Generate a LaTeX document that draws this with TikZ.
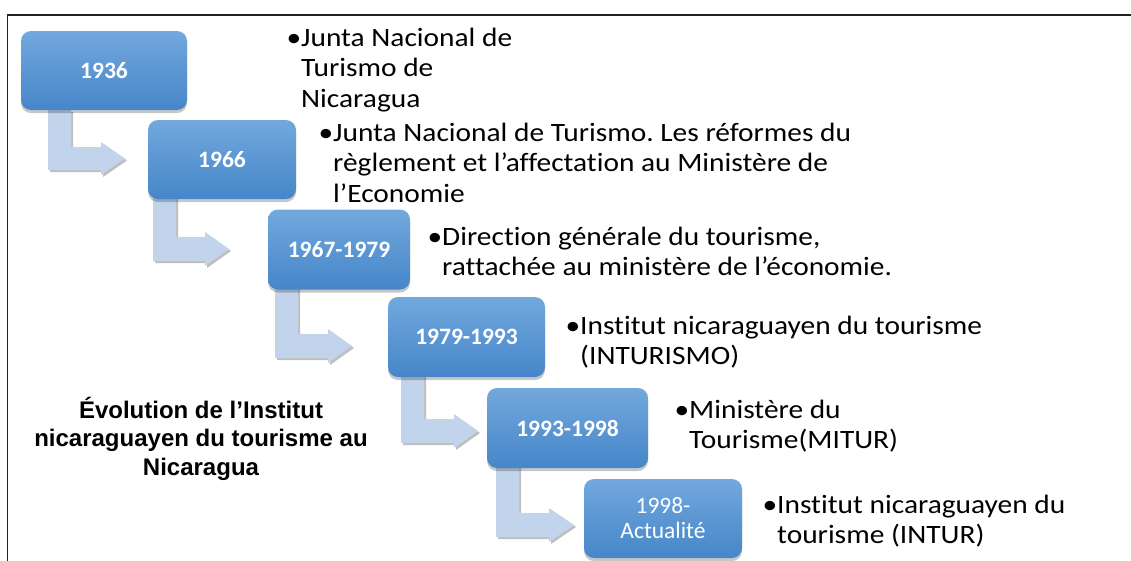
\documentclass[tikz,border=0pt]{standalone}
\usepackage{fontspec}
\usepackage{graphicx}
\setmainfont{Carlito}[Ligatures=NoCommon]
\newfontfamily\titlefont{Liberation Sans}
\usetikzlibrary{shadows}
\definecolor{boxtop}{HTML}{72A8DD}
\definecolor{boxbot}{HTML}{4686C9}
\definecolor{arrowfill}{HTML}{C2D4EB}
\definecolor{framecol}{HTML}{222222}
\tikzset{
  yearbox/.style={rounded corners=10pt, top color=boxtop, bottom color=boxbot,
    draw=none, text=white, font=\fontsize{23.5}{25}\selectfont\bfseries, align=center,
    inner sep=0pt,
    drop shadow={shadow xshift=0pt, shadow yshift=-3pt, opacity=0.22, fill=black}},
  bentarrow/.style={fill=arrowfill, draw=none,
    drop shadow={shadow xshift=2pt, shadow yshift=-2pt, opacity=0.25, fill=black}},
  desc/.style={anchor=base west, inner sep=0pt},
}
\newcommand{\desctext}[1]{\scalebox{1.11}[1]{\parbox[t]{600pt}{\frenchspacing\raggedright\fontsize{26.5}{30.5}\selectfont\leavevmode\llap{•}#1}}}
% sx, top, bartop, barbot, headbase, tip
\newcommand{\bentarr}[6]{%
  \fill[bentarrow] (#1,#2) -- (#1+23,#2) -- (#1+23,#3) -- (#5,#3) -- (#5,#3-5)
    -- (#6,{(#3+#4)/2}) -- (#5,#4+5) -- (#5,#4) -- (#1,#4) -- cycle;}
\begin{document}
\begin{tikzpicture}[x=1pt,y=-1pt]
\useasboundingbox (0,0) rectangle (1131,560);
% frame
\draw[framecol, line width=1.4pt] (7.5,600) -- (7.5,15) -- (1160,15);
% connectors
\bentarr{48}{110}{147}{170}{101}{125}
\bentarr{153}{195}{237}{261}{205}{229}
\bentarr{275}{285}{334}{358}{328}{352}
\bentarr{401}{372}{419}{443}{454}{478}
\bentarr{496}{463}{513}{537}{549}{574}
% boxes
\node[yearbox, minimum width=166pt, minimum height=79pt] (b1) at (104,70.5) {1936};
\node[yearbox, minimum width=148pt, minimum height=79pt] (b2) at (222,159.5) {1966};
\node[yearbox, minimum width=142pt, minimum height=80pt] (b3) at (339,249.5) {1967-1979};
\node[yearbox, minimum width=157pt, minimum height=80pt] (b4) at (466.5,337) {1979-1993};
\node[yearbox, minimum width=161pt, minimum height=80pt] (b5) at (567.5,428) {1993-1998};
\node[yearbox, minimum width=158pt, minimum height=79pt, font=\fontsize{23.5}{25}\selectfont] (b6) at (663,518.5) {1998-\\Actualité};
% descriptions
\node[desc] (t1) at (301,46) {\desctext{Junta Nacional de\\Turismo de\\Nicaragua}};
\node[desc] (t2) at (333,141) {\desctext{Junta Nacional de Turismo. Les réformes du\\règlement et l’affectation au Ministère de\\l’Economie}};
\node[desc] (t3) at (442,245) {\desctext{Direction générale du tourisme,\\rattachée au ministère de l’économie.}};
\node[desc] (t4) at (580,334) {\desctext{Institut nicaraguayen du tourisme\\(INTURISMO)}};
\node[desc] (t5) at (689,418) {\desctext{Ministère du\\Tourisme(MITUR)}};
\node[desc] (t6) at (777,513) {\desctext{Institut nicaraguayen du\\tourisme (INTUR)}};
% title
\node[anchor=base, inner sep=0pt] (title) at (201,418) {\parbox[t]{400pt}{\centering\titlefont\bfseries\fontsize{24}{28.5}\selectfont Évolution de l’Institut\\nicaraguayen du tourisme au\\Nicaragua}};
\end{tikzpicture}
\end{document}
